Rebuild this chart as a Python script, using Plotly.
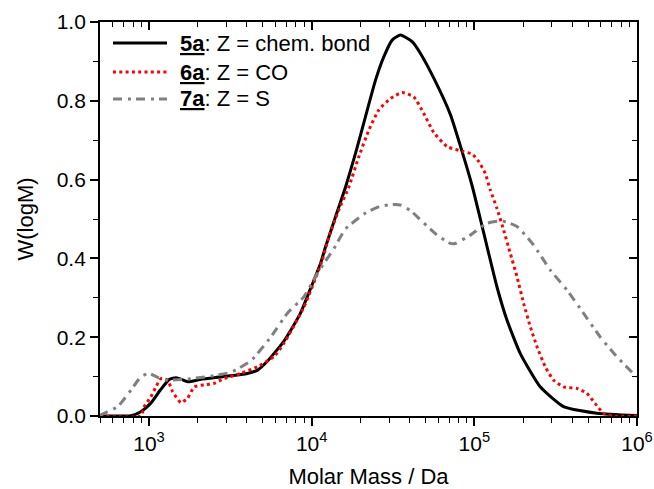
import plotly.graph_objects as go

# ---- data (molar mass in Da, W(logM)) ----
m_5a = [500, 708, 776, 891, 1023, 1175, 1334, 1466, 1585, 1726, 2089, 2884, 4027, 4677,
        5370, 6761, 8511, 9772, 11350, 12190, 14030, 16180, 18620, 21430, 24720, 27800,
        31260, 35160, 41500, 46670, 56230, 71290, 84140, 96830, 108900, 122500, 137700,
        158500, 191400, 254100, 353200, 566200, 1000000]
w_5a = [0.0, 0.0, 0.001, 0.011, 0.032, 0.066, 0.093, 0.097, 0.093, 0.087, 0.093, 0.100,
        0.108, 0.117, 0.140, 0.190, 0.260, 0.320, 0.388, 0.430, 0.506, 0.582, 0.667, 0.760,
        0.853, 0.912, 0.954, 0.967, 0.950, 0.920, 0.858, 0.765, 0.671, 0.585, 0.500, 0.413,
        0.328, 0.244, 0.159, 0.074, 0.024, 0.007, 0.001]

m_6a = [500, 891, 935, 1028, 1104, 1186, 1303, 1396, 1570, 1726, 1897, 2183, 2518, 2897,
        3664, 4645, 5875, 6761, 8974, 11610, 12760, 14690, 16940, 19500, 22490, 25880,
        30550, 35970, 42460, 48870, 56230, 67920, 85900, 96830, 106400, 116700, 125300,
        137700, 151400, 166300, 182800, 200900, 220800, 242700, 272900, 306900, 353200,
        426600, 490900, 552100, 622300, 707900, 1000000]
w_6a = [0.0, 0.0, 0.024, 0.049, 0.074, 0.095, 0.091, 0.062, 0.034, 0.045, 0.074, 0.079,
        0.083, 0.095, 0.108, 0.125, 0.151, 0.185, 0.277, 0.395, 0.455, 0.523, 0.582, 0.658,
        0.726, 0.777, 0.806, 0.821, 0.810, 0.768, 0.720, 0.684, 0.671, 0.665, 0.646, 0.616,
        0.574, 0.527, 0.472, 0.413, 0.354, 0.286, 0.227, 0.176, 0.125, 0.091, 0.074, 0.070,
        0.058, 0.032, 0.007, 0.0, 0.0]

m_7a = [500, 508, 643, 776, 893, 1005, 1130, 1303, 1648, 2291, 3184, 4227, 5598, 7096,
        8974, 10840, 13710, 16180, 21430, 26300, 31620, 35480, 41500, 44460, 59020, 71290,
        76380, 94410, 119700, 147900, 182800, 231200, 292400, 370700, 468800, 592900,
        749900, 948400, 1000000]
w_7a = [0.0, 0.003, 0.024, 0.066, 0.100, 0.108, 0.098, 0.091, 0.093, 0.100, 0.111, 0.140,
        0.200, 0.261, 0.303, 0.362, 0.425, 0.475, 0.515, 0.532, 0.537, 0.535, 0.518, 0.506,
        0.459, 0.438, 0.438, 0.459, 0.489, 0.495, 0.481, 0.434, 0.371, 0.320, 0.261, 0.201,
        0.151, 0.108, 0.100]

series_names = ["<b><u>5a</u></b>: Z = chem. bond",
                "<b><u>6a</u></b>: Z = CO",
                "<b><u>7a</u></b>: Z = S"]

x_tickvals = [1e3, 1e4, 1e5, 1e6]
x_ticktext = ["10<sup>3</sup>", "10<sup>4</sup>", "10<sup>5</sup>", "10<sup>6</sup>"]
y_tickvals = [0.0, 0.2, 0.4, 0.6, 0.8, 1.0]
y_ticktext = ["0.0", "0.2", "0.4", "0.6", "0.8", "1.0"]

FONT = "Liberation Sans, Arial, sans-serif"
styles = [
    dict(color="#000000", width=3, dash="solid"),
    dict(color="#ff0000", width=3, dash="3px,3.3px"),
    dict(color="#808080", width=3, dash="9px,6px,3px,5px"),
]

minor_x = [k * 10 ** e for e in range(2, 6) for k in range(2, 10)]
minor_y = [0.1, 0.3, 0.5, 0.7, 0.9]

fig = go.Figure()
for xs, ys, name, st in zip([m_5a, m_6a, m_7a], [w_5a, w_6a, w_7a], series_names, styles):
    fig.add_trace(go.Scatter(x=xs, y=ys, mode="lines", name=name, showlegend=False,
                             line=dict(shape="spline", smoothing=0.5, **st)))

# helper trace so the mirrored (top/right) axes exist
fig.add_trace(go.Scatter(x=[None], y=[None], xaxis="x2", yaxis="y2", showlegend=False,
                         hoverinfo="skip"))

# manual legend (line samples + text) in paper coordinates
leg_y = [0.9467, 0.873, 0.8046]
for yy, name, st in zip(leg_y, series_names, styles):
    fig.add_shape(type="line", xref="paper", yref="paper", x0=0.0242, x1=0.1248,
                  y0=yy, y1=yy, line=dict(color=st["color"], width=3, dash=st["dash"]))
    fig.add_annotation(xref="paper", yref="paper", x=0.1453, y=yy, text=name,
                       showarrow=False, xanchor="left", yanchor="middle",
                       font=dict(family=FONT, size=22, color="#000000"))

axis_common = dict(showline=True, linecolor="#000000", linewidth=1.8, showgrid=False,
                   zeroline=False, tickcolor="#000000", tickwidth=1.5, automargin=False)

fig.update_layout(
    template="none",
    width=654, height=489,
    margin=dict(l=100, r=17, t=22, b=73, autoexpand=False),
    paper_bgcolor="#ffffff", plot_bgcolor="#ffffff",
    font=dict(family=FONT, size=21, color="#000000"),
    showlegend=False,
    xaxis=dict(type="log", range=[2.69897, 6], tickmode="array", tickvals=x_tickvals,
               ticktext=x_ticktext, ticks="outside", ticklen=8,
               minor=dict(tickmode="array", tickvals=minor_x, ticks="outside", ticklen=5,
                          tickcolor="#000000", tickwidth=1.2),
               title=dict(text="Molar Mass / Da", font=dict(size=22), standoff=18),
               **axis_common),
    yaxis=dict(range=[0, 1], tickmode="array", tickvals=y_tickvals, ticktext=y_ticktext,
               ticks="outside", ticklen=8,
               minor=dict(tickmode="array", tickvals=minor_y, ticks="outside", ticklen=5,
                          tickcolor="#000000", tickwidth=1.2),
               title=dict(text="W(logM)", font=dict(size=22), standoff=17),
               **axis_common),
    xaxis2=dict(type="log", range=[2.69897, 6], overlaying="x", side="top", anchor="y2",
                tickmode="array", tickvals=x_tickvals, ticks="inside", ticklen=8,
                showticklabels=False,
                minor=dict(tickmode="array", tickvals=minor_x, ticks="inside", ticklen=5,
                           tickcolor="#000000", tickwidth=1.2),
                **axis_common),
    yaxis2=dict(range=[0, 1], overlaying="y", side="right", anchor="x2",
                tickmode="array", tickvals=y_tickvals, ticks="inside", ticklen=8,
                showticklabels=False,
                minor=dict(tickmode="array", tickvals=minor_y, ticks="inside", ticklen=5,
                           tickcolor="#000000", tickwidth=1.2),
                **axis_common),
)

fig.write_html("out.html", config={"displayModeBar": False},
               post_script="document.documentElement.style.margin='0px';"
                           "document.body.style.margin='0px';"
                           "document.body.style.overflow='hidden';")
